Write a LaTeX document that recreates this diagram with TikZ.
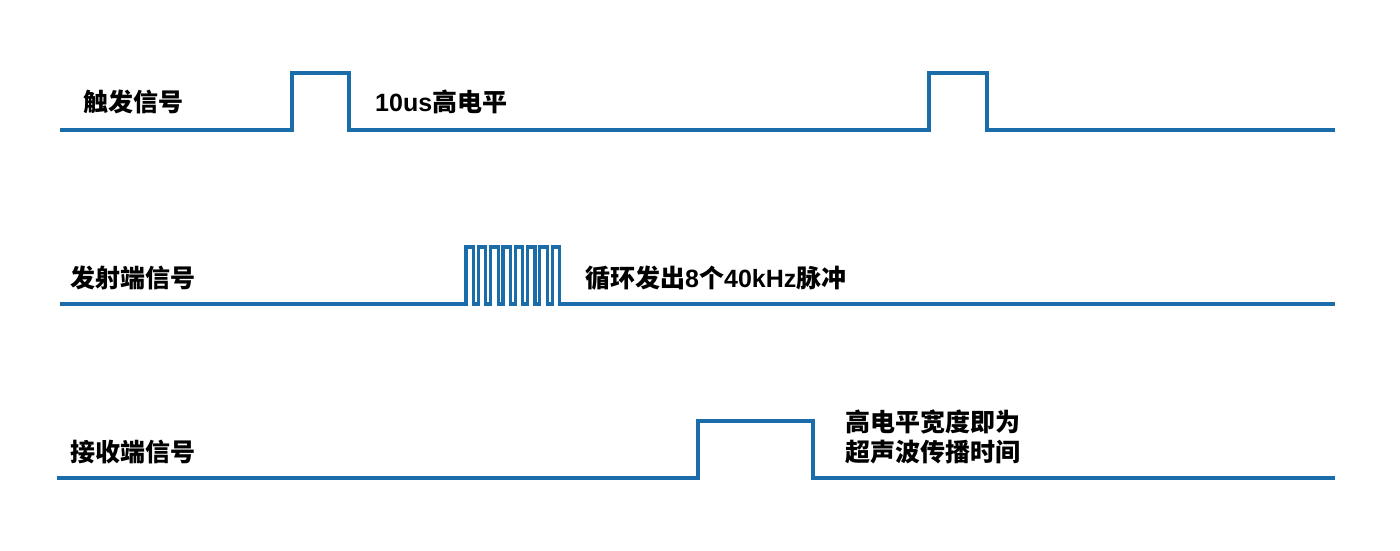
\documentclass[tikz,border=0pt]{standalone}
\usepackage{fontspec}
\setmainfont{Liberation Sans}
\newfontfamily\cjk{Noto Sans CJK SC}
\newfontfamily\latb{Liberation Sans}
\definecolor{sigblue}{HTML}{1A6DA8}
\begin{document}
\begin{tikzpicture}[x=1pt,y=-1pt,
  wave/.style={draw=sigblue,line width=3.2pt,line join=miter},
  lbl/.style={anchor=west,inner sep=0pt,font=\fontsize{25}{31}\selectfont\bfseries\cjk,text=black}]
\useasboundingbox (0,0) rectangle (1400,550);
% trigger
\draw[wave] (60,130) -- (292,130) -- (292,73) -- (349,73) -- (349,130) -- (929,130) -- (929,73) -- (987,73) -- (987,130) -- (1335,130);
\node[lbl] (t1) at (83,102) {触发信号};
\node[lbl] (t2) at (375,102) {{\latb\bfseries 10us}高电平};
% transmitter
\draw[wave] (60,304) -- (466,304)
  \foreach \k in {0,...,7} { -- ({466+12.3*\k},304) -- ({466+12.3*\k},247) -- ({473.5+12.3*\k},247) -- ({473.5+12.3*\k},304) }
  -- (1335,304);
\node[lbl] (e1) at (70,278) {发射端信号};
\node[lbl] (e2) at (585,278) {循环发出{\latb\bfseries 8}个{\latb\bfseries 40kHz}脉冲};
% receiver
\draw[wave] (57,478) -- (698,478) -- (698,421) -- (813,421) -- (813,478) -- (1335,478);
\node[lbl] (r1) at (70,452) {接收端信号};
\node[lbl] (r2) at (845,422) {高电平宽度即为};
\node[lbl] (r3) at (845,452) {超声波传播时间};
\end{tikzpicture}
\end{document}
